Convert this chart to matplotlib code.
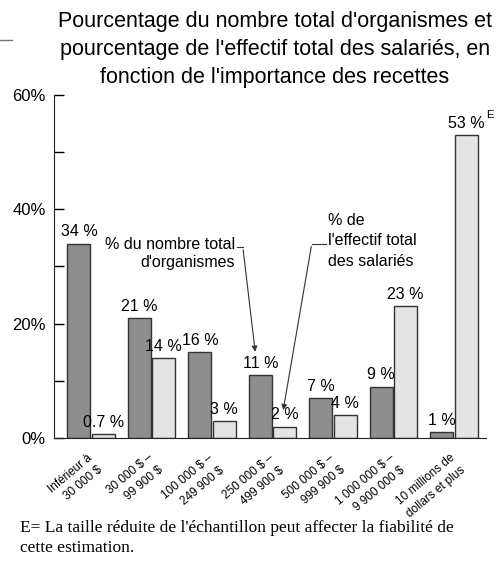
import matplotlib.pyplot as plt
from matplotlib.lines import Line2D
import matplotlib.transforms as mtransforms
import numpy as np

# revenue classes
categories = ["Inférieur à\n30 000 $", "30 000 $ –\n99 900 $", "100 000 $ –\n249 900 $",
              "250 000 $ –\n499 900 $", "500 000 $ –\n999 900 $", "1 000 000 $ –\n9 900 000 $",
              "10 millions de\ndollars et plus"]
# % of organisations (bar heights as drawn) and their printed labels
orgs = [34, 21, 15, 11, 7, 9, 1]
orgs_labels = ["34 %", "21 %", "16 %", "11 %", "7 %", "9 %", "1 %"]
# % of employees
staff = [0.7, 14, 3, 2, 4, 23, 53]
staff_labels = ["0.7 %", "14 %", "3 %", "2 %", "4 %", "23 %", "53 %"]
y_ticks = [0, 20, 40, 60]
y_tick_labels = ["0%", "20%", "40%", "60%"]

plt.rcParams['font.family'] = ['Liberation Sans', 'DejaVu Sans']

fig = plt.figure(figsize=(4.98, 5.70), dpi=100)
ax = fig.add_axes([0.1084, 0.2316, 0.8675, 0.6018])

x = np.arange(len(categories))
w = 0.38
dark = ax.bar(x - 0.2, orgs, w, color='#8e8e8e', edgecolor='#333333', linewidth=1.0)
light = ax.bar(x + 0.2, staff, w, color='#e4e4e4', edgecolor='#333333', linewidth=1.0)

for rect, lab in zip(dark, orgs_labels):
    ax.annotate(lab, (rect.get_x() + rect.get_width() / 2, rect.get_height()),
                xytext=(0, 3), textcoords='offset points', ha='center', va='bottom', fontsize=11.5)
for rect, lab in zip(light, staff_labels):
    ax.annotate(lab, (rect.get_x() + rect.get_width() / 2, rect.get_height()),
                xytext=(0, 3), textcoords='offset points', ha='center', va='bottom', fontsize=11.5)
# superscript E on the last value
last = light[-1]
ax.annotate("E", (last.get_x() + last.get_width() / 2, last.get_height()),
            xytext=(14.5, 11), textcoords='offset points', ha='left', va='bottom', fontsize=8)

ax.set_xlim(-0.612, 6.53)
ax.set_ylim(0, 60)
ax.set_yticks(y_ticks)
ax.set_yticklabels(y_tick_labels, fontsize=12)
ax.set_yticks([10, 30, 50], minor=True)
ax.tick_params(axis='y', which='both', direction='in', length=7, width=1, pad=6)
ax.set_xticks(x)
ax.set_xticklabels(categories, rotation=40, ha='right', va='top', rotation_mode='anchor',
                   multialignment='right', fontsize=8.5, linespacing=1.45,
                   family=['Liberation Sans Narrow', 'Liberation Sans'])
ax.tick_params(axis='x', length=0, pad=10)
shift = mtransforms.ScaledTranslation(-4 / 100, 0, fig.dpi_scale_trans)
for lab in ax.get_xticklabels():
    lab.set_transform(lab.get_transform() + shift)
for s in ['top', 'right']:
    ax.spines[s].set_visible(False)
ax.spines['left'].set_color('#222222')
ax.spines['bottom'].set_color('#222222')

# callouts
ax.text(2.38, 35.2, "% du nombre total\nd'organismes", ha='right', va='top',
        fontsize=11.5, multialignment='right', linespacing=1.3)
ax.plot([2.42, 2.51], [33.4, 33.4], color='#333333', lw=0.8)
ax.annotate("", xy=(2.72, 14.6), xytext=(2.51, 33.4),
            arrowprops=dict(arrowstyle='-|>', color='#333333', lw=0.8, mutation_scale=8))

ax.text(3.92, 39.4, "% de\nl'effectif total\ndes salariés", ha='left', va='top',
        fontsize=11.5, multialignment='left', linespacing=1.45)
ax.plot([3.65, 3.89], [34.0, 34.0], color='#333333', lw=0.8)
ax.annotate("", xy=(3.17, 4.4), xytext=(3.65, 34.0),
            arrowprops=dict(arrowstyle='-|>', color='#333333', lw=0.8, mutation_scale=8))

fig.text(0.552, 0.9815, "Pourcentage du nombre total d'organismes et\n"
         "pourcentage de l'effectif total des salariés, en\n"
         "fonction de l'importance des recettes",
         ha='center', va='top', fontsize=15.5, linespacing=1.45)

fig.text(0.04, 0.056, "E= La taille réduite de l'échantillon peut affecter la fiabilité de\n"
         "cette estimation.", ha='left', va='center', fontsize=12.5,
         family=['Liberation Serif', 'DejaVu Serif'], linespacing=1.4)

fig.add_artist(Line2D([0, 0.024], [0.93, 0.93], color='#777777', lw=1))

fig.savefig("out.png", dpi=100)
